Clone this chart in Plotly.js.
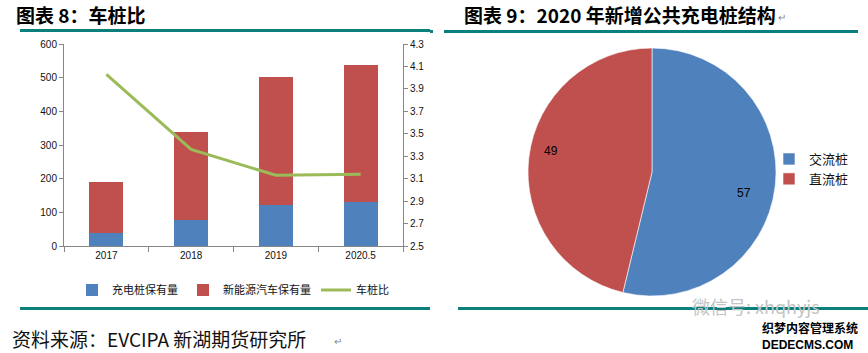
<!DOCTYPE html>
<html><head><meta charset="utf-8">
<script src="https://cdn.plot.ly/plotly-3.0.1.min.js"></script>
<style>html,body{margin:0;padding:0;background:#fff}#chart{width:868px;height:353px}</style>
</head><body><div id="chart"></div>
<script>
// ---- data ----
const years = ['2017', '2018', '2019', '2020.5'];
const chargers = [38, 77.7, 121.9, 130];      // 充电桩保有量
const nev = [153, 261, 381, 408];             // 新能源汽车保有量
const ratio = [4.03, 3.36, 3.13, 3.14];       // 车桩比
const pieLabels = ['交流桩', '直流桩'];
const pieValues = [57, 49];

// ---- layout helpers ----
const W = 868, H = 353;
const px = x => x / W, py = y => 1 - y / H;
const CJK = '"Noto Sans CJK SC", sans-serif';
const NUM = '"Liberation Sans", Arial, sans-serif';
const TEAL = '#0B7F7B';
const pieC = {x: 652, y: 172, r: 124};

const traces = [
  {type: 'bar', x: years, y: chargers, name: '充电桩保有量', marker: {color: '#4F81BD'}, legend: 'legend'},
  {type: 'bar', x: years, y: nev, name: '新能源汽车保有量', marker: {color: '#C0504D'}, legend: 'legend'},
  {type: 'scatter', mode: 'lines', x: years, y: ratio, yaxis: 'y2', name: '车桩比',
   line: {color: '#9BBB59', width: 3}, legend: 'legend'},
  {type: 'pie', labels: pieLabels, values: pieValues, sort: false, direction: 'clockwise', rotation: 0,
   marker: {colors: ['#4F81BD', '#C0504D'], line: {color: '#ffffff', width: 0.6}},
   textinfo: 'none', hoverinfo: 'label+value', legend: 'legend2',
   domain: {x: [px(pieC.x - pieC.r), px(pieC.x + pieC.r)], y: [py(pieC.y + pieC.r), py(pieC.y - pieC.r)]}}
];

// pie value labels placed near slice mid-angles (derived from data)
const total = pieValues.reduce((a, b) => a + b, 0);
let cum = 0;
const pieAnn = pieValues.map(v => {
  const mid = (cum + v / 2) / total * 2 * Math.PI + 5 * Math.PI / 180; cum += v;
  const rr = 0.83 * pieC.r;
  return {x: px(pieC.x + rr * Math.sin(mid)), y: py(pieC.y - rr * Math.cos(mid)),
          text: String(v), font: {family: NUM, size: 12, color: '#000'}};
});

const hline = (x0, x1, y) => ({type: 'line', xref: 'paper', yref: 'paper', x0: px(x0), x1: px(x1),
  y0: py(y), y1: py(y), line: {color: TEAL, width: 3}});

const layout = {
  width: W, height: H, margin: {l: 0, r: 0, t: 0, b: 0},
  paper_bgcolor: '#fff', plot_bgcolor: '#fff',
  barmode: 'stack', bargap: 0.6,
  xaxis: {domain: [px(64), px(403)], type: 'category', showgrid: false, zeroline: false,
    showline: true, linecolor: '#868686', linewidth: 1, ticks: 'outside', tickson: 'boundaries',
    ticklen: 5, tickcolor: '#868686', tickfont: {family: NUM, size: 10, color: '#111'}},
  yaxis: {domain: [py(246), py(44)], range: [0, 600], dtick: 100, showgrid: false, zeroline: false,
    showline: true, linecolor: '#868686', ticks: 'outside', ticklen: 4, tickcolor: '#868686',
    tickfont: {family: NUM, size: 10, color: '#111'}},
  yaxis2: {overlaying: 'y', side: 'right', range: [2.5, 4.3], dtick: 0.2, tick0: 2.5, tickformat: '.1f',
    showgrid: false, zeroline: false, showline: true, linecolor: '#868686', ticks: 'outside',
    ticklen: 4, tickcolor: '#868686', tickfont: {family: NUM, size: 10, color: '#111'}},
  legend: {orientation: 'h', traceorder: 'normal', x: px(72), xanchor: 'left', y: py(290), yanchor: 'middle',
    font: {family: CJK, size: 11, color: '#111'}, bgcolor: 'rgba(0,0,0,0)'},
  legend2: {x: px(769), xanchor: 'left', y: py(169), yanchor: 'middle',
    font: {family: CJK, size: 13, color: '#111'}, bgcolor: 'rgba(0,0,0,0)'},
  shapes: [hline(20, 430, 30.5), hline(444, 858, 31.5), hline(430, 433, 31.5),
           hline(20, 430, 308.5), hline(458, 868, 308.5)],
  annotations: pieAnn.concat([
    {x: px(14), y: py(14), xanchor: 'left', yanchor: 'middle', text: '<b>图表 8：车桩比</b>',
     font: {family: CJK, size: 19, color: '#000'}},
    {x: px(462), y: py(14), xanchor: 'left', yanchor: 'middle', text: '<b>图表 9：2020 年新增公共充电桩结构</b>',
     font: {family: CJK, size: 19, color: '#000'}},
    {x: px(776), y: py(16), xanchor: 'left', yanchor: 'middle', text: '↵', font: {family: CJK, size: 10, color: '#888'}},
    {x: px(10), y: py(338), xanchor: 'left', yanchor: 'middle', text: '资料来源：EVCIPA 新湖期货研究所',
     font: {family: CJK, size: 19, color: '#111'}},
    {x: px(332), y: py(340), xanchor: 'left', yanchor: 'middle', text: '↵', font: {family: CJK, size: 10, color: '#888'}},
    {x: px(690), y: py(306), xanchor: 'left', yanchor: 'middle', text: '微信号: xhqhyjs',
     font: {family: CJK, size: 18, color: '#c4c4c4'}},
    {x: px(760), y: py(327), xanchor: 'left', yanchor: 'middle', text: '<b>织梦内容管理系统</b>',
     font: {family: CJK, size: 12, color: '#000'}},
    {x: px(760), y: py(345), xanchor: 'left', yanchor: 'middle', text: '<b>DEDECMS.COM</b>',
     font: {family: NUM, size: 12, color: '#000'}}
  ]).map(a => Object.assign({xref: 'paper', yref: 'paper', showarrow: false}, a))
};

Plotly.newPlot('chart', traces, layout, {displayModeBar: false, staticPlot: true});
</script>
</body></html>
